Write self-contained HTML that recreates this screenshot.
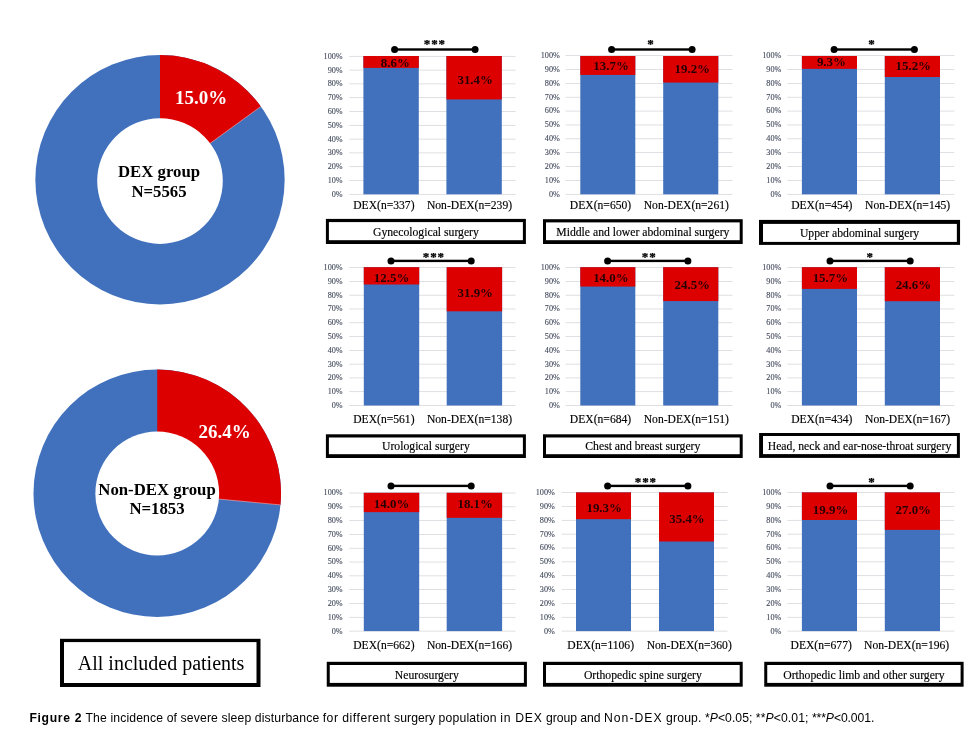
<!DOCTYPE html>
<html lang="en"><head><meta charset="utf-8"><title>Figure 2</title>
<style>
html,body{margin:0;padding:0;background:#fff;}
body{width:971px;height:742px;overflow:hidden;position:relative;}
svg{position:absolute;left:0;top:0;display:block;}
text{font-family:"Liberation Serif","DejaVu Serif",serif;}
.yl{font-size:8.2px;fill:#444c5e;stroke:#444c5e;stroke-width:0.12px;text-anchor:end;}
.xl{font-size:11.6px;fill:#000;stroke:#000;stroke-width:0.15px;text-anchor:middle;}
.dl{font-size:12.9px;font-weight:bold;fill:#260000;text-anchor:middle;}
.st{font-size:13px;font-weight:bold;fill:#000;stroke:#000;stroke-width:0.25px;text-anchor:middle;letter-spacing:0.9px;}
.bx{font-size:11.7px;fill:#000;stroke:#000;stroke-width:0.15px;text-anchor:middle;}
.dn{font-size:16.75px;font-weight:bold;fill:#000;text-anchor:middle;}
.dp{font-size:19px;font-weight:bold;fill:#fff;text-anchor:middle;}
.cap{font-family:"Liberation Sans","DejaVu Sans",sans-serif;font-size:12.2px;fill:#000;white-space:pre;}
</style></head><body>
<svg width="971" height="742" viewBox="0 0 971 742">
<rect x="0" y="0" width="971" height="742" fill="#fff"/>

<circle cx="160" cy="179.75" r="124.65" fill="#4171BD"/>
<path d="M160,179.75 L160,55.099999999999994 A124.65,124.65 0 0 1 260.84,106.48 Z" fill="#DD0000"/>
<line x1="160" y1="179.75" x2="260.84" y2="106.48" stroke="#f6b0b0" stroke-width="0.6"/>
<circle cx="160" cy="181.1" r="62.8" fill="#fff"/>
<text class="dp" x="201" y="103.5">15.0%</text>
<text class="dn" x="159" y="176.6">DEX group</text>
<text class="dn" x="159" y="196.5">N=5565</text>
<circle cx="157.25" cy="493.25" r="123.75" fill="#4171BD"/>
<path d="M157.25,493.25 L157.25,369.5 A123.75,123.75 0 0 1 280.45,504.90 Z" fill="#DD0000"/>
<line x1="157.25" y1="493.25" x2="280.45" y2="504.90" stroke="#f6b0b0" stroke-width="0.6"/>
<circle cx="157.25" cy="493.5" r="61.9" fill="#fff"/>
<text class="dp" x="224.5" y="437.6">26.4%</text>
<text class="dn" x="157" y="494.5">Non-DEX group</text>
<text class="dn" x="157" y="513.75">N=1853</text>
<rect x="60" y="638.8" width="200.5" height="48.2" fill="#000"/><rect x="64" y="642.1" width="192.5" height="40.9" fill="#fff"/>
<text x="161.1" y="669.9" text-anchor="middle" style="font-size:20px;fill:#000">All included patients</text>
<rect x="349.2" y="193.95" width="166.30" height="0.7" fill="#D2D2D8"/>
<text class="yl" x="342.70" y="196.70">0%</text>
<rect x="349.2" y="180.15" width="166.30" height="0.7" fill="#D2D2D8"/>
<text class="yl" x="342.70" y="182.90">10%</text>
<rect x="349.2" y="166.35" width="166.30" height="0.7" fill="#D2D2D8"/>
<text class="yl" x="342.70" y="169.10">20%</text>
<rect x="349.2" y="152.55" width="166.30" height="0.7" fill="#D2D2D8"/>
<text class="yl" x="342.70" y="155.30">30%</text>
<rect x="349.2" y="138.75" width="166.30" height="0.7" fill="#D2D2D8"/>
<text class="yl" x="342.70" y="141.50">40%</text>
<rect x="349.2" y="124.95" width="166.30" height="0.7" fill="#D2D2D8"/>
<text class="yl" x="342.70" y="127.70">50%</text>
<rect x="349.2" y="111.15" width="166.30" height="0.7" fill="#D2D2D8"/>
<text class="yl" x="342.70" y="113.90">60%</text>
<rect x="349.2" y="97.35" width="166.30" height="0.7" fill="#D2D2D8"/>
<text class="yl" x="342.70" y="100.10">70%</text>
<rect x="349.2" y="83.55" width="166.30" height="0.7" fill="#D2D2D8"/>
<text class="yl" x="342.70" y="86.30">80%</text>
<rect x="349.2" y="69.75" width="166.30" height="0.7" fill="#D2D2D8"/>
<text class="yl" x="342.70" y="72.50">90%</text>
<rect x="349.2" y="55.95" width="166.30" height="0.7" fill="#D2D2D8"/>
<text class="yl" x="342.70" y="58.70">100%</text>
<rect x="363.40" y="56.00" width="55.40" height="138.30" fill="#4171BD"/>
<rect x="363.40" y="56.00" width="55.40" height="11.89" fill="#DD0000"/>
<text class="dl" x="395.30" y="66.80">8.6%</text>
<rect x="446.40" y="56.00" width="55.40" height="138.30" fill="#4171BD"/>
<rect x="446.40" y="56.00" width="55.40" height="43.43" fill="#DD0000"/>
<text class="dl" x="475.20" y="83.80">31.4%</text>
<rect x="394.6" y="48.30" width="80.50" height="2.4" fill="#000"/>
<circle cx="394.6" cy="49.5" r="3.5" fill="#000"/><circle cx="475.1" cy="49.5" r="3.5" fill="#000"/>
<text class="st" x="434.84999999999997" y="47.80">***</text>
<text class="xl" x="383.90" y="208.90">DEX(n=337)</text>
<text class="xl" x="469.50" y="208.90">Non-DEX(n=239)</text>
<rect x="565.75" y="193.95" width="166.75" height="0.7" fill="#D2D2D8"/>
<text class="yl" x="559.80" y="196.70">0%</text>
<rect x="565.75" y="180.08" width="166.75" height="0.7" fill="#D2D2D8"/>
<text class="yl" x="559.80" y="182.83">10%</text>
<rect x="565.75" y="166.21" width="166.75" height="0.7" fill="#D2D2D8"/>
<text class="yl" x="559.80" y="168.96">20%</text>
<rect x="565.75" y="152.34" width="166.75" height="0.7" fill="#D2D2D8"/>
<text class="yl" x="559.80" y="155.09">30%</text>
<rect x="565.75" y="138.47" width="166.75" height="0.7" fill="#D2D2D8"/>
<text class="yl" x="559.80" y="141.22">40%</text>
<rect x="565.75" y="124.60" width="166.75" height="0.7" fill="#D2D2D8"/>
<text class="yl" x="559.80" y="127.35">50%</text>
<rect x="565.75" y="110.73" width="166.75" height="0.7" fill="#D2D2D8"/>
<text class="yl" x="559.80" y="113.48">60%</text>
<rect x="565.75" y="96.86" width="166.75" height="0.7" fill="#D2D2D8"/>
<text class="yl" x="559.80" y="99.61">70%</text>
<rect x="565.75" y="82.99" width="166.75" height="0.7" fill="#D2D2D8"/>
<text class="yl" x="559.80" y="85.74">80%</text>
<rect x="565.75" y="69.12" width="166.75" height="0.7" fill="#D2D2D8"/>
<text class="yl" x="559.80" y="71.87">90%</text>
<rect x="565.75" y="55.25" width="166.75" height="0.7" fill="#D2D2D8"/>
<text class="yl" x="559.80" y="58.00">100%</text>
<rect x="580.30" y="56.00" width="55.00" height="138.30" fill="#4171BD"/>
<rect x="580.30" y="56.00" width="55.00" height="18.95" fill="#DD0000"/>
<text class="dl" x="611.10" y="69.60">13.7%</text>
<rect x="663.20" y="56.00" width="55.10" height="138.30" fill="#4171BD"/>
<rect x="663.20" y="56.00" width="55.10" height="26.55" fill="#DD0000"/>
<text class="dl" x="692.30" y="72.60">19.2%</text>
<rect x="611.6" y="48.30" width="80.50" height="2.4" fill="#000"/>
<circle cx="611.6" cy="49.5" r="3.5" fill="#000"/><circle cx="692.1" cy="49.5" r="3.5" fill="#000"/>
<text class="st" x="650.95" y="47.80">*</text>
<text class="xl" x="600.50" y="208.90">DEX(n=650)</text>
<text class="xl" x="686.30" y="208.90">Non-DEX(n=261)</text>
<rect x="787.25" y="193.95" width="167.00" height="0.7" fill="#D2D2D8"/>
<text class="yl" x="781.30" y="196.70">0%</text>
<rect x="787.25" y="180.08" width="167.00" height="0.7" fill="#D2D2D8"/>
<text class="yl" x="781.30" y="182.83">10%</text>
<rect x="787.25" y="166.21" width="167.00" height="0.7" fill="#D2D2D8"/>
<text class="yl" x="781.30" y="168.96">20%</text>
<rect x="787.25" y="152.34" width="167.00" height="0.7" fill="#D2D2D8"/>
<text class="yl" x="781.30" y="155.09">30%</text>
<rect x="787.25" y="138.47" width="167.00" height="0.7" fill="#D2D2D8"/>
<text class="yl" x="781.30" y="141.22">40%</text>
<rect x="787.25" y="124.60" width="167.00" height="0.7" fill="#D2D2D8"/>
<text class="yl" x="781.30" y="127.35">50%</text>
<rect x="787.25" y="110.73" width="167.00" height="0.7" fill="#D2D2D8"/>
<text class="yl" x="781.30" y="113.48">60%</text>
<rect x="787.25" y="96.86" width="167.00" height="0.7" fill="#D2D2D8"/>
<text class="yl" x="781.30" y="99.61">70%</text>
<rect x="787.25" y="82.99" width="167.00" height="0.7" fill="#D2D2D8"/>
<text class="yl" x="781.30" y="85.74">80%</text>
<rect x="787.25" y="69.12" width="167.00" height="0.7" fill="#D2D2D8"/>
<text class="yl" x="781.30" y="71.87">90%</text>
<rect x="787.25" y="55.25" width="167.00" height="0.7" fill="#D2D2D8"/>
<text class="yl" x="781.30" y="58.00">100%</text>
<rect x="801.90" y="56.00" width="55.10" height="138.30" fill="#4171BD"/>
<rect x="801.90" y="56.00" width="55.10" height="12.86" fill="#DD0000"/>
<text class="dl" x="831.40" y="66.40">9.3%</text>
<rect x="884.80" y="56.00" width="55.20" height="138.30" fill="#4171BD"/>
<rect x="884.80" y="56.00" width="55.20" height="21.02" fill="#DD0000"/>
<text class="dl" x="913.30" y="69.80">15.2%</text>
<rect x="834.1" y="48.30" width="80.30" height="2.4" fill="#000"/>
<circle cx="834.1" cy="49.5" r="3.5" fill="#000"/><circle cx="914.4" cy="49.5" r="3.5" fill="#000"/>
<text class="st" x="871.85" y="47.80">*</text>
<text class="xl" x="821.80" y="208.90">DEX(n=454)</text>
<text class="xl" x="907.60" y="208.90">Non-DEX(n=145)</text>
<rect x="349.2" y="405.15" width="166.30" height="0.7" fill="#D2D2D8"/>
<text class="yl" x="342.70" y="407.90">0%</text>
<rect x="349.2" y="391.36" width="166.30" height="0.7" fill="#D2D2D8"/>
<text class="yl" x="342.70" y="394.11">10%</text>
<rect x="349.2" y="377.57" width="166.30" height="0.7" fill="#D2D2D8"/>
<text class="yl" x="342.70" y="380.32">20%</text>
<rect x="349.2" y="363.78" width="166.30" height="0.7" fill="#D2D2D8"/>
<text class="yl" x="342.70" y="366.53">30%</text>
<rect x="349.2" y="349.99" width="166.30" height="0.7" fill="#D2D2D8"/>
<text class="yl" x="342.70" y="352.74">40%</text>
<rect x="349.2" y="336.20" width="166.30" height="0.7" fill="#D2D2D8"/>
<text class="yl" x="342.70" y="338.95">50%</text>
<rect x="349.2" y="322.41" width="166.30" height="0.7" fill="#D2D2D8"/>
<text class="yl" x="342.70" y="325.16">60%</text>
<rect x="349.2" y="308.62" width="166.30" height="0.7" fill="#D2D2D8"/>
<text class="yl" x="342.70" y="311.37">70%</text>
<rect x="349.2" y="294.83" width="166.30" height="0.7" fill="#D2D2D8"/>
<text class="yl" x="342.70" y="297.58">80%</text>
<rect x="349.2" y="281.04" width="166.30" height="0.7" fill="#D2D2D8"/>
<text class="yl" x="342.70" y="283.79">90%</text>
<rect x="349.2" y="267.25" width="166.30" height="0.7" fill="#D2D2D8"/>
<text class="yl" x="342.70" y="270.00">100%</text>
<rect x="363.80" y="267.20" width="55.40" height="138.30" fill="#4171BD"/>
<rect x="363.80" y="267.20" width="55.40" height="17.29" fill="#DD0000"/>
<text class="dl" x="391.60" y="281.80">12.5%</text>
<rect x="446.70" y="267.20" width="55.40" height="138.30" fill="#4171BD"/>
<rect x="446.70" y="267.20" width="55.40" height="44.12" fill="#DD0000"/>
<text class="dl" x="475.30" y="296.70">31.9%</text>
<rect x="391" y="259.70" width="80.20" height="2.4" fill="#000"/>
<circle cx="391" cy="260.9" r="3.5" fill="#000"/><circle cx="471.2" cy="260.9" r="3.5" fill="#000"/>
<text class="st" x="433.84999999999997" y="260.80">***</text>
<text class="xl" x="383.90" y="422.70">DEX(n=561)</text>
<text class="xl" x="469.50" y="422.70">Non-DEX(n=138)</text>
<rect x="565.75" y="405.15" width="166.75" height="0.7" fill="#D2D2D8"/>
<text class="yl" x="559.80" y="407.90">0%</text>
<rect x="565.75" y="391.36" width="166.75" height="0.7" fill="#D2D2D8"/>
<text class="yl" x="559.80" y="394.11">10%</text>
<rect x="565.75" y="377.57" width="166.75" height="0.7" fill="#D2D2D8"/>
<text class="yl" x="559.80" y="380.32">20%</text>
<rect x="565.75" y="363.78" width="166.75" height="0.7" fill="#D2D2D8"/>
<text class="yl" x="559.80" y="366.53">30%</text>
<rect x="565.75" y="349.99" width="166.75" height="0.7" fill="#D2D2D8"/>
<text class="yl" x="559.80" y="352.74">40%</text>
<rect x="565.75" y="336.20" width="166.75" height="0.7" fill="#D2D2D8"/>
<text class="yl" x="559.80" y="338.95">50%</text>
<rect x="565.75" y="322.41" width="166.75" height="0.7" fill="#D2D2D8"/>
<text class="yl" x="559.80" y="325.16">60%</text>
<rect x="565.75" y="308.62" width="166.75" height="0.7" fill="#D2D2D8"/>
<text class="yl" x="559.80" y="311.37">70%</text>
<rect x="565.75" y="294.83" width="166.75" height="0.7" fill="#D2D2D8"/>
<text class="yl" x="559.80" y="297.58">80%</text>
<rect x="565.75" y="281.04" width="166.75" height="0.7" fill="#D2D2D8"/>
<text class="yl" x="559.80" y="283.79">90%</text>
<rect x="565.75" y="267.25" width="166.75" height="0.7" fill="#D2D2D8"/>
<text class="yl" x="559.80" y="270.00">100%</text>
<rect x="580.30" y="267.20" width="55.00" height="138.30" fill="#4171BD"/>
<rect x="580.30" y="267.20" width="55.00" height="19.36" fill="#DD0000"/>
<text class="dl" x="610.90" y="281.80">14.0%</text>
<rect x="663.20" y="267.20" width="55.10" height="138.30" fill="#4171BD"/>
<rect x="663.20" y="267.20" width="55.10" height="33.88" fill="#DD0000"/>
<text class="dl" x="692.30" y="288.50">24.5%</text>
<rect x="607.6" y="259.70" width="80.30" height="2.4" fill="#000"/>
<circle cx="607.6" cy="260.9" r="3.5" fill="#000"/><circle cx="687.9" cy="260.9" r="3.5" fill="#000"/>
<text class="st" x="649.25" y="260.80">**</text>
<text class="xl" x="600.50" y="422.70">DEX(n=684)</text>
<text class="xl" x="686.30" y="422.70">Non-DEX(n=151)</text>
<rect x="787.25" y="405.15" width="167.00" height="0.7" fill="#D2D2D8"/>
<text class="yl" x="781.30" y="407.90">0%</text>
<rect x="787.25" y="391.36" width="167.00" height="0.7" fill="#D2D2D8"/>
<text class="yl" x="781.30" y="394.11">10%</text>
<rect x="787.25" y="377.57" width="167.00" height="0.7" fill="#D2D2D8"/>
<text class="yl" x="781.30" y="380.32">20%</text>
<rect x="787.25" y="363.78" width="167.00" height="0.7" fill="#D2D2D8"/>
<text class="yl" x="781.30" y="366.53">30%</text>
<rect x="787.25" y="349.99" width="167.00" height="0.7" fill="#D2D2D8"/>
<text class="yl" x="781.30" y="352.74">40%</text>
<rect x="787.25" y="336.20" width="167.00" height="0.7" fill="#D2D2D8"/>
<text class="yl" x="781.30" y="338.95">50%</text>
<rect x="787.25" y="322.41" width="167.00" height="0.7" fill="#D2D2D8"/>
<text class="yl" x="781.30" y="325.16">60%</text>
<rect x="787.25" y="308.62" width="167.00" height="0.7" fill="#D2D2D8"/>
<text class="yl" x="781.30" y="311.37">70%</text>
<rect x="787.25" y="294.83" width="167.00" height="0.7" fill="#D2D2D8"/>
<text class="yl" x="781.30" y="297.58">80%</text>
<rect x="787.25" y="281.04" width="167.00" height="0.7" fill="#D2D2D8"/>
<text class="yl" x="781.30" y="283.79">90%</text>
<rect x="787.25" y="267.25" width="167.00" height="0.7" fill="#D2D2D8"/>
<text class="yl" x="781.30" y="270.00">100%</text>
<rect x="801.90" y="267.20" width="55.10" height="138.30" fill="#4171BD"/>
<rect x="801.90" y="267.20" width="55.10" height="21.71" fill="#DD0000"/>
<text class="dl" x="830.40" y="281.80">15.7%</text>
<rect x="884.80" y="267.20" width="55.20" height="138.30" fill="#4171BD"/>
<rect x="884.80" y="267.20" width="55.20" height="34.02" fill="#DD0000"/>
<text class="dl" x="913.40" y="288.50">24.6%</text>
<rect x="830" y="259.70" width="80.20" height="2.4" fill="#000"/>
<circle cx="830" cy="260.9" r="3.5" fill="#000"/><circle cx="910.2" cy="260.9" r="3.5" fill="#000"/>
<text class="st" x="870.25" y="260.80">*</text>
<text class="xl" x="821.80" y="422.70">DEX(n=434)</text>
<text class="xl" x="907.60" y="422.70">Non-DEX(n=167)</text>
<rect x="349.2" y="630.75" width="166.30" height="0.7" fill="#D2D2D8"/>
<text class="yl" x="342.70" y="633.50">0%</text>
<rect x="349.2" y="616.94" width="166.30" height="0.7" fill="#D2D2D8"/>
<text class="yl" x="342.70" y="619.69">10%</text>
<rect x="349.2" y="603.13" width="166.30" height="0.7" fill="#D2D2D8"/>
<text class="yl" x="342.70" y="605.88">20%</text>
<rect x="349.2" y="589.32" width="166.30" height="0.7" fill="#D2D2D8"/>
<text class="yl" x="342.70" y="592.07">30%</text>
<rect x="349.2" y="575.51" width="166.30" height="0.7" fill="#D2D2D8"/>
<text class="yl" x="342.70" y="578.26">40%</text>
<rect x="349.2" y="561.70" width="166.30" height="0.7" fill="#D2D2D8"/>
<text class="yl" x="342.70" y="564.45">50%</text>
<rect x="349.2" y="547.89" width="166.30" height="0.7" fill="#D2D2D8"/>
<text class="yl" x="342.70" y="550.64">60%</text>
<rect x="349.2" y="534.08" width="166.30" height="0.7" fill="#D2D2D8"/>
<text class="yl" x="342.70" y="536.83">70%</text>
<rect x="349.2" y="520.27" width="166.30" height="0.7" fill="#D2D2D8"/>
<text class="yl" x="342.70" y="523.02">80%</text>
<rect x="349.2" y="506.46" width="166.30" height="0.7" fill="#D2D2D8"/>
<text class="yl" x="342.70" y="509.21">90%</text>
<rect x="349.2" y="492.65" width="166.30" height="0.7" fill="#D2D2D8"/>
<text class="yl" x="342.70" y="495.40">100%</text>
<rect x="363.80" y="492.80" width="55.40" height="138.30" fill="#4171BD"/>
<rect x="363.80" y="492.80" width="55.40" height="19.36" fill="#DD0000"/>
<text class="dl" x="391.60" y="507.50">14.0%</text>
<rect x="446.70" y="492.80" width="55.40" height="138.30" fill="#4171BD"/>
<rect x="446.70" y="492.80" width="55.40" height="25.03" fill="#DD0000"/>
<text class="dl" x="475.20" y="507.50">18.1%</text>
<rect x="391" y="484.70" width="80.20" height="2.4" fill="#000"/>
<circle cx="391" cy="485.9" r="3.5" fill="#000"/><circle cx="471.2" cy="485.9" r="3.5" fill="#000"/>
<text class="xl" x="383.90" y="649.00">DEX(n=662)</text>
<text class="xl" x="469.50" y="649.00">Non-DEX(n=166)</text>
<rect x="561.75" y="630.75" width="165.75" height="0.7" fill="#D2D2D8"/>
<text class="yl" x="554.80" y="633.50">0%</text>
<rect x="561.75" y="616.90" width="165.75" height="0.7" fill="#D2D2D8"/>
<text class="yl" x="554.80" y="619.65">10%</text>
<rect x="561.75" y="603.05" width="165.75" height="0.7" fill="#D2D2D8"/>
<text class="yl" x="554.80" y="605.80">20%</text>
<rect x="561.75" y="589.20" width="165.75" height="0.7" fill="#D2D2D8"/>
<text class="yl" x="554.80" y="591.95">30%</text>
<rect x="561.75" y="575.35" width="165.75" height="0.7" fill="#D2D2D8"/>
<text class="yl" x="554.80" y="578.10">40%</text>
<rect x="561.75" y="561.50" width="165.75" height="0.7" fill="#D2D2D8"/>
<text class="yl" x="554.80" y="564.25">50%</text>
<rect x="561.75" y="547.65" width="165.75" height="0.7" fill="#D2D2D8"/>
<text class="yl" x="554.80" y="550.40">60%</text>
<rect x="561.75" y="533.80" width="165.75" height="0.7" fill="#D2D2D8"/>
<text class="yl" x="554.80" y="536.55">70%</text>
<rect x="561.75" y="519.95" width="165.75" height="0.7" fill="#D2D2D8"/>
<text class="yl" x="554.80" y="522.70">80%</text>
<rect x="561.75" y="506.10" width="165.75" height="0.7" fill="#D2D2D8"/>
<text class="yl" x="554.80" y="508.85">90%</text>
<rect x="561.75" y="492.25" width="165.75" height="0.7" fill="#D2D2D8"/>
<text class="yl" x="554.80" y="495.00">100%</text>
<rect x="576.00" y="492.40" width="55.00" height="138.70" fill="#4171BD"/>
<rect x="576.00" y="492.40" width="55.00" height="26.77" fill="#DD0000"/>
<text class="dl" x="604.20" y="511.80">19.3%</text>
<rect x="659.00" y="492.40" width="55.00" height="138.70" fill="#4171BD"/>
<rect x="659.00" y="492.40" width="55.00" height="49.10" fill="#DD0000"/>
<text class="dl" x="687.00" y="522.50">35.4%</text>
<rect x="607.6" y="484.70" width="80.30" height="2.4" fill="#000"/>
<circle cx="607.6" cy="485.9" r="3.5" fill="#000"/><circle cx="687.9" cy="485.9" r="3.5" fill="#000"/>
<text class="st" x="645.85" y="485.60">***</text>
<text class="xl" x="600.70" y="649.00">DEX(n=1106)</text>
<text class="xl" x="689.20" y="649.00">Non-DEX(n=360)</text>
<rect x="787.25" y="630.75" width="167.00" height="0.7" fill="#D2D2D8"/>
<text class="yl" x="781.30" y="633.50">0%</text>
<rect x="787.25" y="616.90" width="167.00" height="0.7" fill="#D2D2D8"/>
<text class="yl" x="781.30" y="619.65">10%</text>
<rect x="787.25" y="603.05" width="167.00" height="0.7" fill="#D2D2D8"/>
<text class="yl" x="781.30" y="605.80">20%</text>
<rect x="787.25" y="589.20" width="167.00" height="0.7" fill="#D2D2D8"/>
<text class="yl" x="781.30" y="591.95">30%</text>
<rect x="787.25" y="575.35" width="167.00" height="0.7" fill="#D2D2D8"/>
<text class="yl" x="781.30" y="578.10">40%</text>
<rect x="787.25" y="561.50" width="167.00" height="0.7" fill="#D2D2D8"/>
<text class="yl" x="781.30" y="564.25">50%</text>
<rect x="787.25" y="547.65" width="167.00" height="0.7" fill="#D2D2D8"/>
<text class="yl" x="781.30" y="550.40">60%</text>
<rect x="787.25" y="533.80" width="167.00" height="0.7" fill="#D2D2D8"/>
<text class="yl" x="781.30" y="536.55">70%</text>
<rect x="787.25" y="519.95" width="167.00" height="0.7" fill="#D2D2D8"/>
<text class="yl" x="781.30" y="522.70">80%</text>
<rect x="787.25" y="506.10" width="167.00" height="0.7" fill="#D2D2D8"/>
<text class="yl" x="781.30" y="508.85">90%</text>
<rect x="787.25" y="492.25" width="167.00" height="0.7" fill="#D2D2D8"/>
<text class="yl" x="781.30" y="495.00">100%</text>
<rect x="801.90" y="492.40" width="55.10" height="138.70" fill="#4171BD"/>
<rect x="801.90" y="492.40" width="55.10" height="27.60" fill="#DD0000"/>
<text class="dl" x="830.60" y="513.80">19.9%</text>
<rect x="884.80" y="492.40" width="55.20" height="138.70" fill="#4171BD"/>
<rect x="884.80" y="492.40" width="55.20" height="37.45" fill="#DD0000"/>
<text class="dl" x="913.30" y="513.80">27.0%</text>
<rect x="830" y="484.70" width="80.20" height="2.4" fill="#000"/>
<circle cx="830" cy="485.9" r="3.5" fill="#000"/><circle cx="910.2" cy="485.9" r="3.5" fill="#000"/>
<text class="st" x="871.85" y="485.60">*</text>
<text class="xl" x="821.20" y="649.00">DEX(n=677)</text>
<text class="xl" x="906.60" y="649.00">Non-DEX(n=196)</text>
<rect x="325.90" y="218.90" width="200.00" height="25.10" fill="#000"/><rect x="328.90" y="222.10" width="194.00" height="18.10" fill="#fff"/>
<text class="bx" x="425.90" y="235.8">Gynecological surgery</text>
<rect x="543.00" y="219.20" width="199.70" height="24.80" fill="#000"/><rect x="546.00" y="222.40" width="193.70" height="17.80" fill="#fff"/>
<text class="bx" x="642.85" y="236.1">Middle and lower abdominal surgery</text>
<rect x="759.00" y="219.90" width="201.05" height="25.00" fill="#000"/><rect x="763.00" y="223.90" width="193.85" height="18.00" fill="#fff"/>
<text class="bx" x="859.52" y="236.9">Upper abdominal surgery</text>
<rect x="325.90" y="434.30" width="200.00" height="23.70" fill="#000"/><rect x="328.90" y="437.50" width="194.00" height="16.70" fill="#fff"/>
<text class="bx" x="425.90" y="450.3">Urological surgery</text>
<rect x="543.00" y="434.30" width="199.70" height="23.70" fill="#000"/><rect x="546.00" y="437.50" width="193.70" height="16.70" fill="#fff"/>
<text class="bx" x="642.85" y="450.3">Chest and breast surgery</text>
<rect x="759.10" y="433.00" width="200.80" height="24.90" fill="#000"/><rect x="763.00" y="436.00" width="193.90" height="18.10" fill="#fff"/>
<text class="bx" x="859.50" y="450.3">Head, neck and ear-nose-throat surgery</text>
<rect x="326.75" y="661.80" width="200.15" height="24.90" fill="#000"/><rect x="329.75" y="665.00" width="194.15" height="17.90" fill="#fff"/>
<text class="bx" x="426.82" y="678.7">Neurosurgery</text>
<rect x="543.00" y="661.80" width="199.70" height="24.90" fill="#000"/><rect x="546.00" y="665.00" width="193.70" height="17.90" fill="#fff"/>
<text class="bx" x="642.85" y="678.7">Orthopedic spine surgery</text>
<rect x="764.25" y="661.80" width="199.35" height="24.90" fill="#000"/><rect x="767.25" y="665.00" width="193.35" height="17.90" fill="#fff"/>
<text class="bx" x="863.92" y="678.7">Orthopedic limb and other surgery</text>
<text class="cap" x="29.4" y="721.7" textLength="56.1" lengthAdjust="spacing"><tspan font-weight="bold">Figure 2 </tspan></text>
<text class="cap" x="85.5" y="721.7" textLength="237.2" lengthAdjust="spacing">The incidence of severe sleep disturbance </text>
<text class="cap" x="322.7" y="721.7" textLength="71.4" lengthAdjust="spacing">for different </text>
<text class="cap" x="394.1" y="721.7" textLength="44.4" lengthAdjust="spacing">surgery </text>
<text class="cap" x="438.5" y="721.7" textLength="61.7" lengthAdjust="spacing">population </text>
<text class="cap" x="500.2" y="721.7" textLength="45.7" lengthAdjust="spacing">in DEX </text>
<text class="cap" x="545.9" y="721.7" textLength="58.1" lengthAdjust="spacing">group and </text>
<text class="cap" x="604" y="721.7" textLength="62.0" lengthAdjust="spacing">Non-DEX </text>
<text class="cap" x="666" y="721.7" textLength="39.0" lengthAdjust="spacing">group. </text>
<text class="cap" x="705" y="721.7" textLength="50.8" lengthAdjust="spacing">*<tspan font-style="italic">P</tspan>&lt;0.05; </text>
<text class="cap" x="755.8" y="721.7" textLength="56.1" lengthAdjust="spacing">**<tspan font-style="italic">P</tspan>&lt;0.01; </text>
<text class="cap" x="811.9" y="721.7" textLength="62.4" lengthAdjust="spacing">***<tspan font-style="italic">P</tspan>&lt;0.001.</text>
</svg></body></html>
